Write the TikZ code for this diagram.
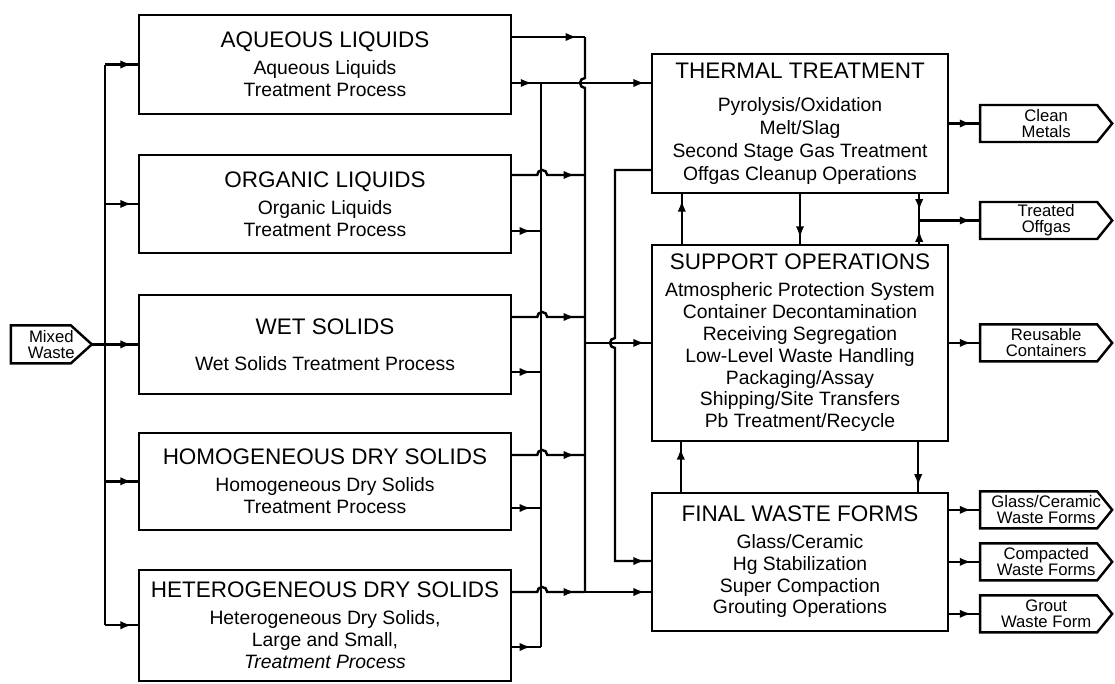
\documentclass[tikz,border=0pt]{standalone}
\usepackage{fontspec}
\setmainfont{Liberation Sans}
\usetikzlibrary{positioning, arrows.meta, decorations.markings}

\newcommand{\boxhead}[2][3pt]{{\fontsize{12.8}{14}\selectfont #2}\\[#1]}

\begin{document}
\begin{tikzpicture}[x=0.02cm, y=-0.02cm,
    flow/.style={line width=1.4pt},
    endtip/.style={postaction={decorate, decoration={markings, mark=at position -0.12cm with {\arrow{Latex[length=6.5pt,width=4.8pt]}}}}},
    tipat/.style={postaction={decorate, decoration={markings, mark=at position #1 with {\arrow{Latex[length=6.5pt,width=4.8pt]}}}}},
    stage/.style={draw, line width=1.4pt, align=center, inner sep=2pt, font=\fontsize{11}{12.4}\selectfont},
    tag/.style={outer sep=0pt, inner sep=1pt, align=center, font=\fontsize{9.5}{9}\selectfont},
    outlet/.style={tag, minimum width=2.64cm, minimum height=0.74cm}]
    \useasboundingbox (0,0) rectangle (1115,683);

    % treatment trains
    \node [stage, minimum width=7.44cm, minimum height=1.98cm] (aq) at (325,64.5) {\boxhead{AQUEOUS LIQUIDS}Aqueous Liquids\\Treatment Process};
    \node [stage, minimum width=7.44cm, minimum height=1.96cm, below=0.77cm of aq] (org) {\boxhead{ORGANIC LIQUIDS}Organic Liquids\\Treatment Process};
    \node [stage, minimum width=7.44cm, minimum height=1.98cm, below=0.79cm of org] (wet) {\boxhead[8pt]{WET SOLIDS}Wet Solids Treatment Process};
    \node [stage, minimum width=7.44cm, minimum height=1.94cm, below=0.73cm of wet] (hom) {\boxhead{HOMOGENEOUS DRY SOLIDS}Homogeneous Dry Solids\\Treatment Process};
    \node [stage, minimum width=7.44cm, minimum height=2.22cm, below=0.75cm of hom] (het) {\boxhead{HETEROGENEOUS DRY SOLIDS}Heterogeneous Dry Solids,\\Large and Small,\\\textit{Treatment Process}};

    \node [tag, minimum width=1.62cm, minimum height=0.76cm, left=0.92cm of wet] (mw) {Mixed\\Waste};

    % central facilities
    \node [stage, minimum width=5.92cm, minimum height=2.78cm, font=\fontsize{11}{13}\selectfont] (th) at (800,123.5) {\boxhead[6pt]{THERMAL TREATMENT}Pyrolysis/Oxidation\\Melt/Slag\\Second Stage Gas Treatment\\Offgas Cleanup Operations};
    \node [stage, minimum width=5.92cm, minimum height=3.92cm, below=0.99cm of th] (sup) {\boxhead{SUPPORT OPERATIONS}Atmospheric Protection System\\Container Decontamination\\Receiving Segregation\\Low-Level Waste Handling\\Packaging/Assay\\Shipping/Site Transfers\\Pb Treatment/Recycle};
    \node [stage, minimum width=5.92cm, minimum height=2.76cm, below=0.99cm of sup] (fin) {\boxhead{FINAL WASTE FORMS}Glass/Ceramic\\Hg Stabilization\\Super Compaction\\Grouting Operations};

    % products
    \node [outlet, right=0.62cm of th] (clean) {Clean\\Metals};
    \node [outlet, below=1.2cm of clean] (og) {Treated\\Offgas};
    \node [outlet, right=0.62cm of sup] (ru) {Reusable\\Containers};
    \node [outlet, right=0.62cm of fin] (cw) {Compacted\\Waste Forms};
    \node [outlet, above=0.3cm of cw] (gc) {Glass/Ceramic\\Waste Forms};
    \node [outlet, below=0.3cm of cw] (gw) {Grout\\Waste Form};

    % arrow-shaped outlines
    \draw[flow] (mw.north west) -- ([xshift=-0.42cm]mw.north east) -- (mw.east) -- ([xshift=-0.42cm]mw.south east) -- (mw.south west) -- cycle;
    \foreach \o in {clean, og, ru, gc, cw, gw}
        \draw[flow] (\o.north west) -- ([xshift=-0.3cm]\o.north east) -- (\o.east) -- ([xshift=-0.3cm]\o.south east) -- (\o.south west) -- cycle;

    \coordinate (lbus) at ([xshift=-0.66cm]wet.west);
    \coordinate (busa) at (541,83);
    \coordinate (busb) at (585,37);
    \coordinate (slag) at (615,170);
    \coordinate (ogx) at ([xshift=-0.6cm]th.south east);
    \coordinate (ogj) at (ogx |- og.west);

    % feed
    \draw[flow] (mw.east) -- (lbus);
    \draw[flow] (lbus |- aq.west) -- (lbus |- het.west);
    \foreach \b in {aq, org, wet, hom, het}
        \draw[flow, endtip] (lbus |- \b.west) -- (\b.west);

    % train outputs
    \draw[flow, tipat=-0.16cm] (aq.east |- busb) -- (busb);
    \draw[flow, tipat=0.4cm, endtip] (aq.east |- busa) -- (th.west |- busa);
    \foreach \b/\u/\l in {org/175/231, wet/317/372, hom/455/508, het/592/647}{
        \draw[flow, tipat=-0.2cm] (\b.east |- 0,\u) -- ++(25,0) arc[start angle=180, end angle=360, radius=5] -- (busb |- 0,\u);
        \draw[flow, tipat=-0.2cm] (\b.east |- 0,\l) -- (busa |- 0,\l);
    }
    \draw[flow] (busa) -- (busa |- 0,647);
    \draw[flow] (busb) -- (busb |- 0,78) arc[start angle=270, end angle=90, radius=5] -- (busb |- 0,592);
    \draw[flow, endtip] (busb |- 0,592) -- (fin.west |- 0,592);
    \draw[flow, endtip] (busb |- sup.west) -- (sup.west);
    \draw[flow, endtip] (th.west |- slag) -- (slag) -- (slag |- 0,338) arc[start angle=270, end angle=90, radius=5] |- (fin.west |- 0,561);

    % between facilities
    \draw[flow, endtip] ([xshift=0.62cm]sup.north west) -- ([xshift=0.62cm]th.south west);
    \draw[flow, endtip] (th.south) -- (sup.north);
    \draw[flow, tipat=-0.2cm] (ogx) -- (ogj);
    \draw[flow, tipat=-0.2cm] (ogx |- sup.north) -- (ogj);
    \draw[flow, endtip] ([xshift=0.6cm]fin.north west) -- ([xshift=0.6cm]sup.south west);
    \draw[flow, endtip] ([xshift=-0.62cm]sup.south east) -- ([xshift=-0.62cm]fin.north east);

    % products out
    \draw[flow, tipat=-0.18cm] (ogj) -- (og.west);
    \draw[flow, tipat=-0.18cm] (th.east |- clean) -- (clean.west);
    \draw[flow, tipat=-0.18cm] (sup.east |- ru) -- (ru.west);
    \foreach \o in {gc, cw, gw}
        \draw[flow, tipat=-0.18cm] (fin.east |- \o) -- (\o.west);
\end{tikzpicture}
\end{document}
